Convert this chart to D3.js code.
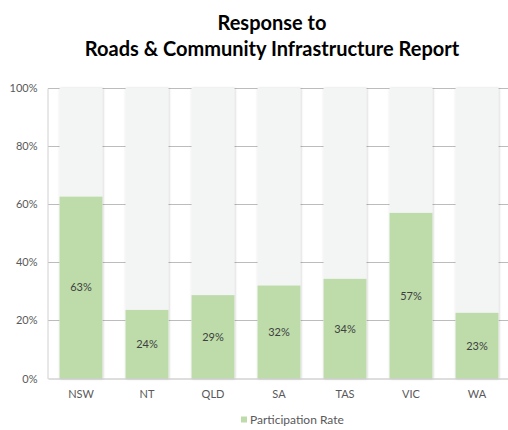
<!DOCTYPE html>
<html><head><meta charset="utf-8">
<script src="https://cdn.jsdelivr.net/npm/d3@7"></script>
<style>
html,body{margin:0;padding:0;background:#fff;}
svg{display:block;font-family:Lato,"Open Sans",sans-serif;}
</style></head>
<body>
<svg id="chart" width="508" height="430"></svg>
<script>
const categories = ["NSW","NT","QLD","SA","TAS","VIC","WA"];
const participation = [0.626,0.236,0.287,0.32,0.343,0.57,0.226];
const yTicks = [0,0.2,0.4,0.6,0.8,1.0];
const titleLines = ["Response to","Roads & Community Infrastructure Report"];
const legendLabel = "Participation Rate";

const svg = d3.select("#chart");
const m = {left:48, right:510, top:88, bottom:378.5};

const defs = svg.append("defs");
const f = defs.append("filter").attr("id","sh").attr("x","-20%").attr("y","-5%").attr("width","140%").attr("height","110%");
f.append("feDropShadow").attr("dx",0.6).attr("dy",0.3).attr("stdDeviation",0.8).attr("flood-color","#000").attr("flood-opacity",0.22);

const x = d3.scaleBand().domain(categories).range([m.left,m.right]).paddingInner(0.35).paddingOuter(0.175);
const y = d3.scaleLinear().domain([0,1]).range([m.bottom,m.top]);

// gridlines
svg.append("g").selectAll("line").data(yTicks.filter(d=>d>0)).join("line")
  .attr("x1",m.left).attr("x2",m.right)
  .attr("y1",d=>Math.round(y(d))+0.5).attr("y2",d=>Math.round(y(d))+0.5)
  .attr("stroke","#bcbcbc").attr("stroke-width",1);

// y axis
const yAxis = d3.axisLeft(y).tickValues(yTicks).tickFormat(d3.format(".0%")).tickSize(0).tickPadding(10);
const ya = svg.append("g").attr("transform",`translate(${m.left-0.5},0)`).call(yAxis);
ya.select(".domain").attr("stroke","#d0d0d0");
ya.selectAll("text").attr("fill","#595959").style("font-size","11px").style("font-family","Lato, sans-serif");

// background bars
svg.append("g").selectAll("rect").data(categories).join("rect")
  .attr("x",d=>x(d)).attr("width",x.bandwidth())
  .attr("y",y(1)).attr("height",y(0)-y(1))
  .attr("fill","#f3f4f4").attr("filter","url(#sh)");

// value bars
svg.append("g").selectAll("rect").data(categories).join("rect")
  .attr("x",d=>x(d)).attr("width",x.bandwidth())
  .attr("y",(d,i)=>y(participation[i])).attr("height",(d,i)=>y(0)-y(participation[i]))
  .attr("fill","#bddcaa");

// x axis
const xa = svg.append("g").attr("transform",`translate(0,${m.bottom})`).call(d3.axisBottom(x).tickSize(0).tickPadding(12));
xa.select(".domain").attr("stroke","#bcbcbc");
xa.selectAll("text").attr("fill","#595959").style("font-size","11px").style("font-family","Lato, sans-serif");

// data labels
svg.append("g").selectAll("text").data(categories).join("text")
  .attr("x",d=>x(d)+x.bandwidth()/2)
  .attr("y",(d,i)=>(y(participation[i])+y(0))/2)
  .attr("dy","0.35em").attr("text-anchor","middle")
  .attr("fill","#404040").style("font-size","11px")
  .text((d,i)=>d3.format(".0%")(participation[i]));

// title
svg.append("g").selectAll("text").data(titleLines).join("text")
  .attr("x",272).attr("y",(d,i)=>30+i*26).attr("text-anchor","middle")
  .attr("fill","#000").style("font-size","20px").style("font-weight","bold")
  .text(d=>d);

// legend
const lg = svg.append("g").attr("transform","translate(241,416)");
lg.append("rect").attr("width",6).attr("height",6).attr("y",0.5).attr("fill","#bddcaa");
lg.append("text").attr("x",9).attr("y",3.5).attr("dy","0.35em").attr("fill","#595959").style("font-size","12px").text(legendLabel);
</script>
</body></html>
